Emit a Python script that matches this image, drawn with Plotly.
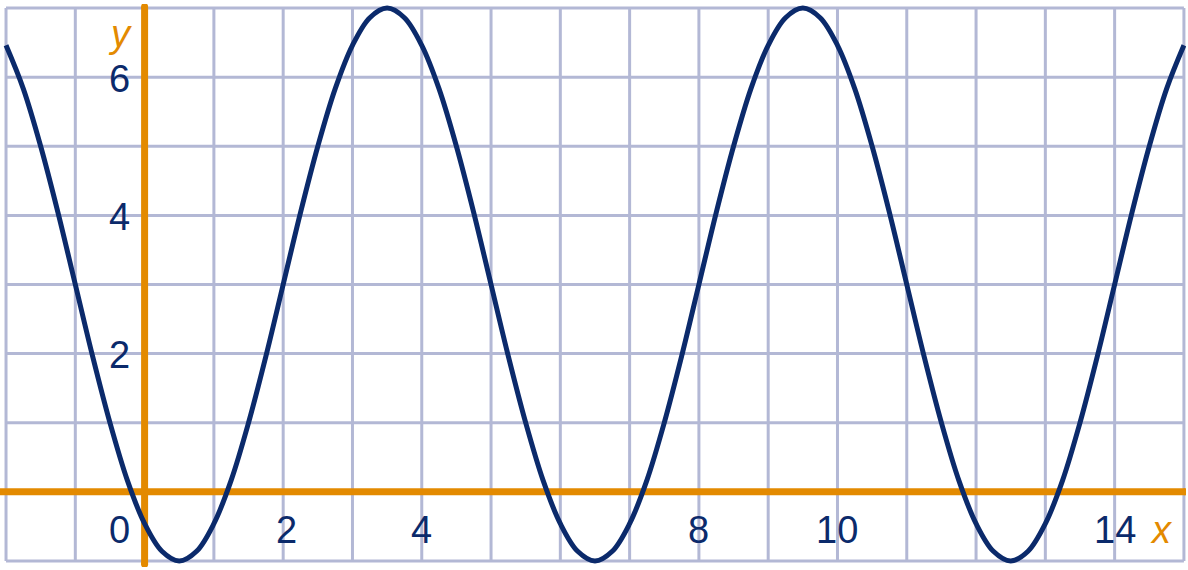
import plotly.graph_objects as go

# ---- data ----
curve_x = [i * 0.25 for i in range(-8, 61)]  # -2 .. 15 step 0.25
curve_y = [6.46, 5.83, 5.0, 4.04, 3.0, 1.96, 1.0, 0.17, -0.46, -0.86,
           -1.0, -0.86, -0.46, 0.17, 1.0, 1.96, 3.0, 4.04, 5.0, 5.83, 6.46, 6.86,
           7.0, 6.86, 6.46, 5.83, 5.0, 4.04, 3.0, 1.96, 1.0, 0.17, -0.46, -0.86,
           -1.0, -0.86, -0.46, 0.17, 1.0, 1.96, 3.0, 4.04, 5.0, 5.83, 6.46, 6.86,
           7.0, 6.86, 6.46, 5.83, 5.0, 4.04, 3.0, 1.96, 1.0, 0.17, -0.46, -0.86,
           -1.0, -0.86, -0.46, 0.17, 1.0, 1.96, 3.0, 4.04, 5.0, 5.83, 6.46]
x_tick_labels = [0, 2, 4, 8, 10, 14]
y_tick_labels = [2, 4, 6]
grid_x = list(range(-2, 16))
grid_y = list(range(-1, 8))

NAVY = "#0B2A6B"
ORANGE = "#E38A00"
GRID = "#B3B8D5"
FONT = "Liberation Sans, Arial, sans-serif"

x_min, x_max = grid_x[0], grid_x[-1]
y_min, y_max = grid_y[0], grid_y[-1]
xr = [x_min - 0.087, x_max + 0.03]
yr = [y_min - 0.087, y_max + 0.058]

fig = go.Figure()

shapes = []
for gx in grid_x:
    shapes.append(dict(type="line", xref="x", yref="y", x0=gx, x1=gx, y0=y_min, y1=y_max,
                       line=dict(color=GRID, width=3), layer="below"))
for gy in grid_y:
    shapes.append(dict(type="line", xref="x", yref="y", x0=x_min, x1=x_max, y0=gy, y1=gy,
                       line=dict(color=GRID, width=3), layer="below"))
# axes
shapes.append(dict(type="line", xref="x", yref="y", x0=xr[0], x1=x_max + 0.02, y0=0, y1=0,
                   line=dict(color=ORANGE, width=7), layer="below"))
shapes.append(dict(type="line", xref="x", yref="y", x0=0, x1=0, y0=yr[0] + 0.04, y1=yr[1] - 0.04,
                   line=dict(color=ORANGE, width=7), layer="below"))

# round caps for axes
fig.add_trace(go.Scatter(x=[x_max + 0.02, 0, 0], y=[0, yr[0] + 0.04, yr[1] - 0.04], mode="markers",
                         marker=dict(color=ORANGE, size=7, line=dict(width=0)),
                         hoverinfo="skip", showlegend=False))

fig.add_trace(go.Scatter(x=curve_x, y=curve_y, mode="lines",
                         line=dict(color=NAVY, width=5, shape="spline", smoothing=1.0),
                         showlegend=False))

annotations = []
for v in x_tick_labels:
    xpos = -0.36 if v == 0 else (v + 0.05 if v == 2 else v)
    annotations.append(dict(x=xpos, y=-0.55, xref="x", yref="y", text=str(v), showarrow=False,
                            font=dict(family=FONT, size=38, color=NAVY),
                            xanchor="center", yanchor="middle"))
for v in y_tick_labels:
    annotations.append(dict(x=-0.36, y=v - 0.02, xref="x", yref="y", text=str(v), showarrow=False,
                            font=dict(family=FONT, size=38, color=NAVY),
                            xanchor="center", yanchor="middle"))
annotations.append(dict(x=14.68, y=-0.55, xref="x", yref="y", text="<i>x</i>", showarrow=False,
                        font=dict(family=FONT, size=38, color=ORANGE),
                        xanchor="center", yanchor="middle"))
annotations.append(dict(x=-0.36, y=6.62, xref="x", yref="y", text="<i>y</i>", showarrow=False,
                        font=dict(family=FONT, size=38, color=ORANGE),
                        xanchor="center", yanchor="middle"))

fig.update_layout(
    width=1188, height=570,
    margin=dict(l=0, r=2, t=4, b=3),
    paper_bgcolor="white", plot_bgcolor="white",
    xaxis=dict(range=xr, showgrid=False, zeroline=False, showticklabels=False, showline=False,
               fixedrange=True),
    yaxis=dict(range=yr, showgrid=False, zeroline=False, showticklabels=False, showline=False,
               fixedrange=True),
    shapes=shapes, annotations=annotations, showlegend=False,
)

fig.write_html("out.html", config={"displayModeBar": False},
               post_script="document.body.style.margin='0';document.body.style.overflow='hidden';")
